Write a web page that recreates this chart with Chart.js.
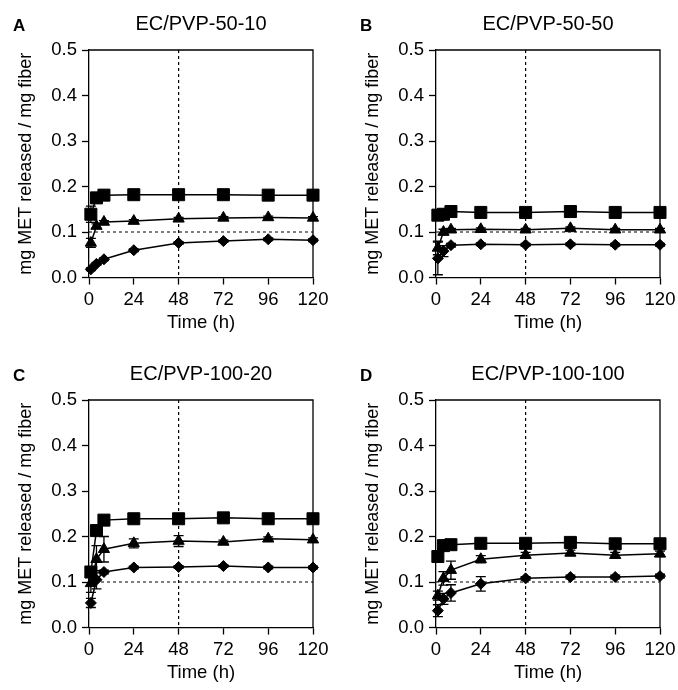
<!DOCTYPE html>
<html>
<head>
<meta charset="utf-8">
<script src="https://cdn.jsdelivr.net/npm/chart.js@4.4.0/dist/chart.umd.min.js"></script>
<style>
    html, body { margin: 0; padding: 0; background: #fff; overflow: hidden; }
    #wrap { position: relative; width: 678px; height: 690px; }
    .panel { position: absolute; width: 339px; height: 345px; }
</style>
</head>
<body>
<div id="wrap">
    <div class="panel" style="left:0;top:0"><canvas id="panelA"></canvas></div>
    <div class="panel" style="left:347px;top:0"><canvas id="panelB"></canvas></div>
    <div class="panel" style="left:0;top:350px"><canvas id="panelC"></canvas></div>
    <div class="panel" style="left:347px;top:350px"><canvas id="panelD"></canvas></div>
</div>
<script>
// sampling times (h)
const hours = [1, 4, 8, 24, 48, 72, 96, 120];
const xTicks = [0, 24, 48, 72, 96, 120];
const yTicks = [0, 0.1, 0.2, 0.3, 0.4, 0.5];

// EC/PVP-50-10
const aSquare = [0.139, 0.175, 0.181, 0.182, 0.182, 0.182, 0.181, 0.181];
const aTriangle = [0.076, 0.113, 0.122, 0.124, 0.129, 0.131, 0.132, 0.131];
const aDiamond = [0.018, 0.030, 0.040, 0.060, 0.076, 0.080, 0.084, 0.082];
const aSquareSd = [0.018, 0.004, 0.003, 0.003, 0.003, 0.003, 0.003, 0.003];
const aTriangleSd = [0.010, 0.005, 0.003, 0.003, 0.003, 0.003, 0.003, 0.003];
const aDiamondSd = [0.003, 0.003, 0.003, 0.003, 0.003, 0.003, 0.003, 0.003];

// EC/PVP-50-50
const bSquare = [0.137, 0.139, 0.145, 0.143, 0.143, 0.145, 0.143, 0.143];
const bTriangle = [0.065, 0.100, 0.105, 0.106, 0.105, 0.108, 0.105, 0.105];
const bDiamond = [0.042, 0.058, 0.071, 0.073, 0.072, 0.073, 0.072, 0.072];
const bSquareSd = [0.004, 0.004, 0.004, 0.004, 0.004, 0.004, 0.004, 0.004];
const bTriangleSd = [0.015, 0.006, 0.003, 0.003, 0.003, 0.003, 0.003, 0.003];
const bDiamondSd = [0.036, 0.012, 0.004, 0.003, 0.003, 0.003, 0.003, 0.003];

// EC/PVP-100-20
const cSquare = [0.122, 0.213, 0.236, 0.239, 0.239, 0.241, 0.239, 0.239];
const cTriangle = [0.097, 0.150, 0.172, 0.185, 0.190, 0.188, 0.195, 0.193];
const cDiamond = [0.054, 0.105, 0.122, 0.132, 0.133, 0.135, 0.132, 0.132];
const cSquareSd = [0.010, 0.006, 0.004, 0.004, 0.004, 0.004, 0.004, 0.004];
const cTriangleSd = [0.020, 0.030, 0.028, 0.010, 0.012, 0.004, 0.004, 0.004];
const cDiamondSd = [0.010, 0.020, 0.004, 0.003, 0.003, 0.003, 0.003, 0.003];

// EC/PVP-100-100
const dSquare = [0.156, 0.180, 0.182, 0.185, 0.185, 0.187, 0.184, 0.184];
const dTriangle = [0.070, 0.108, 0.126, 0.150, 0.159, 0.164, 0.159, 0.162];
const dDiamond = [0.037, 0.063, 0.076, 0.096, 0.108, 0.111, 0.111, 0.113];
const dSquareSd = [0.005, 0.010, 0.010, 0.006, 0.006, 0.006, 0.006, 0.008];
const dTriangleSd = [0.010, 0.015, 0.020, 0.008, 0.006, 0.006, 0.006, 0.006];
const dDiamondSd = [0.013, 0.012, 0.018, 0.016, 0.004, 0.004, 0.004, 0.004];

const FONT = '"Liberation Sans", Arial, sans-serif';
Chart.defaults.font.family = FONT;
Chart.defaults.color = '#000';

// dashed guides, closed frame and SD whiskers under the markers
const decorPlugin = {
    id: 'decor',
    beforeDatasetsDraw(chart) {
        const { ctx, chartArea: area, scales: { x, y } } = chart;
        ctx.save();
        ctx.strokeStyle = '#000';
        ctx.lineWidth = 1.2;
        ctx.setLineDash([3, 3]);
        const y01 = y.getPixelForValue(0.1);
        const x48 = x.getPixelForValue(48);
        ctx.beginPath();
        ctx.moveTo(area.left, y01);
        ctx.lineTo(area.right, y01);
        ctx.moveTo(x48, area.top);
        ctx.lineTo(x48, area.bottom);
        ctx.stroke();
        ctx.setLineDash([]);

        ctx.lineWidth = 1.3;
        ctx.beginPath();
        ctx.moveTo(area.left, area.top);
        ctx.lineTo(area.right, area.top);
        ctx.lineTo(area.right, area.bottom);
        ctx.stroke();

        chart.data.datasets.forEach(ds => {
            ds.data.forEach((p, i) => {
                const e = ds.sd[i];
                const px = x.getPixelForValue(p.x);
                const top = y.getPixelForValue(p.y + e);
                const bot = y.getPixelForValue(p.y - e);
                ctx.beginPath();
                ctx.moveTo(px, top);
                ctx.lineTo(px, bot);
                ctx.moveTo(px - 5, top);
                ctx.lineTo(px + 5, top);
                ctx.moveTo(px - 5, bot);
                ctx.lineTo(px + 5, bot);
                ctx.stroke();
            });
        });
        ctx.restore();
    },
    afterDraw(chart) {
        const { ctx, chartArea: area } = chart;
        const opts = chart.options.plugins.decor;
        ctx.save();
        ctx.fillStyle = '#000';
        ctx.textBaseline = 'middle';
        ctx.textAlign = 'left';
        ctx.font = 'bold 17px ' + FONT;
        ctx.fillText(opts.letter, 13, 26);
        ctx.textAlign = 'center';
        ctx.font = '20px ' + FONT;
        ctx.fillText(opts.title, (area.left + area.right) / 2, 24);
        ctx.restore();
    }
};

function series(values, sd, style, radius) {
    return {
        data: values.map((v, i) => ({ x: hours[i], y: v })),
        sd: sd,
        borderColor: '#000',
        backgroundColor: '#000',
        borderWidth: 1.5,
        pointStyle: style,
        pointRadius: radius,
        pointHoverRadius: radius,
        pointBackgroundColor: '#000',
        pointBorderColor: '#000',
        pointBorderWidth: 1,
        tension: 0,
        clip: false
    };
}

function makePanel(id, letter, title, squares, triangles, diamonds) {
    const ctx = document.getElementById(id).getContext('2d');
    return new Chart(ctx, {
        type: 'line',
        data: {
            datasets: [
                series(diamonds[0], diamonds[1], 'rectRot', 5.5),
                series(triangles[0], triangles[1], 'triangle', 6.5),
                series(squares[0], squares[1], 'rect', 8.5)
            ]
        },
        options: {
            responsive: true,
            maintainAspectRatio: false,
            animation: false,
            layout: { padding: { top: 50, left: 0, right: 26, bottom: 0 } },
            plugins: {
                legend: { display: false },
                tooltip: { enabled: false },
                decor: { letter: letter, title: title }
            },
            scales: {
                x: {
                    type: 'linear',
                    min: 0,
                    max: 120,
                    afterFit: s => { s.height = 67.5; },
                    afterBuildTicks: s => { s.ticks = xTicks.map(v => ({ value: v })); },
                    ticks: { font: { size: 18.5 }, padding: 4, maxRotation: 0 },
                    grid: { drawOnChartArea: false, drawTicks: true, tickLength: 7, tickColor: '#000', tickWidth: 1.3 },
                    border: { display: true, color: '#000', width: 1.3 },
                    title: { display: true, text: 'Time (h)', font: { size: 18.5 }, padding: { top: 0, bottom: 11 } }
                },
                y: {
                    min: 0,
                    max: 0.5,
                    afterFit: s => { s.width = 89; },
                    afterBuildTicks: s => { s.ticks = yTicks.map(v => ({ value: v })); },
                    ticks: { font: { size: 18.5 }, padding: 5, callback: v => v.toFixed(1) },
                    grid: { drawOnChartArea: false, drawTicks: true, tickLength: 7, tickColor: '#000', tickWidth: 1.3 },
                    border: { display: true, color: '#000', width: 1.3 },
                    title: { display: true, text: 'mg MET released / mg fiber', font: { size: 18 }, padding: { top: 15, bottom: 0 } }
                }
            }
        },
        plugins: [decorPlugin]
    });
}

makePanel('panelA', 'A', 'EC/PVP-50-10', [aSquare, aSquareSd], [aTriangle, aTriangleSd], [aDiamond, aDiamondSd]);
makePanel('panelB', 'B', 'EC/PVP-50-50', [bSquare, bSquareSd], [bTriangle, bTriangleSd], [bDiamond, bDiamondSd]);
makePanel('panelC', 'C', 'EC/PVP-100-20', [cSquare, cSquareSd], [cTriangle, cTriangleSd], [cDiamond, cDiamondSd]);
makePanel('panelD', 'D', 'EC/PVP-100-100', [dSquare, dSquareSd], [dTriangle, dTriangleSd], [dDiamond, dDiamondSd]);
</script>
</body>
</html>
